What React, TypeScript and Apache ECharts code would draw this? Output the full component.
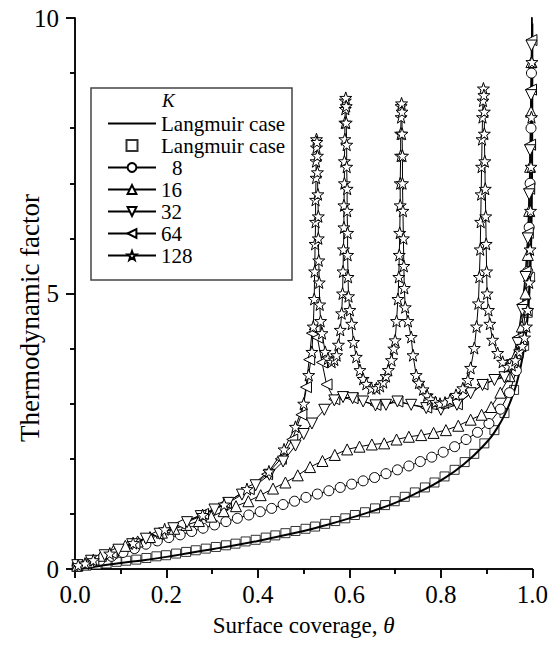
import React, { useEffect, useRef } from "react";
import * as echarts from "echarts";

// Langmuir isotherm, analytic curve
const langTheta = [0, 0.05, 0.1, 0.15, 0.2, 0.25, 0.3, 0.35, 0.4, 0.45, 0.5, 0.55, 0.6, 0.65, 0.7, 0.75, 0.8, 0.85, 0.9, 0.92, 0.94, 0.96, 0.97, 0.98, 0.985, 0.99, 0.993, 0.995, 0.997, 0.998, 0.999, 0.9995, 0.9999, 0.99995];
const langFactor = [0, 0.05, 0.11, 0.16, 0.22, 0.29, 0.36, 0.43, 0.51, 0.6, 0.69, 0.8, 0.92, 1.05, 1.2, 1.39, 1.61, 1.9, 2.3, 2.52, 2.81, 3.22, 3.51, 3.91, 4.2, 4.61, 4.96, 5.3, 5.81, 6.21, 6.91, 7.6, 9.21, 9.9];

// Langmuir case, simulated points
const mcTheta = [0.004, 0.025, 0.047, 0.069, 0.091, 0.112, 0.134, 0.156, 0.178, 0.199, 0.221, 0.243, 0.264, 0.286, 0.308, 0.33, 0.351, 0.373, 0.395, 0.417, 0.438, 0.46, 0.482, 0.504, 0.525, 0.547, 0.569, 0.591, 0.612, 0.634, 0.656, 0.678, 0.699, 0.721, 0.743, 0.765, 0.786, 0.808, 0.83, 0.852, 0.873, 0.895, 0.917, 0.939, 0.96, 0.982, 0.99, 0.995];
const mcFactor = [0.04, 0.06, 0.08, 0.1, 0.13, 0.15, 0.17, 0.2, 0.23, 0.25, 0.28, 0.31, 0.34, 0.37, 0.4, 0.43, 0.46, 0.5, 0.53, 0.57, 0.61, 0.65, 0.69, 0.73, 0.77, 0.82, 0.87, 0.92, 0.98, 1.03, 1.1, 1.16, 1.23, 1.31, 1.39, 1.48, 1.57, 1.68, 1.8, 1.94, 2.09, 2.28, 2.52, 2.83, 3.25, 4.05, 4.65, 5.3];

// K = 8
const k8Theta = [0.005, 0.03, 0.055, 0.08, 0.105, 0.13, 0.155, 0.18, 0.205, 0.23, 0.255, 0.28, 0.305, 0.33, 0.355, 0.38, 0.405, 0.43, 0.455, 0.48, 0.505, 0.53, 0.555, 0.58, 0.605, 0.63, 0.655, 0.68, 0.705, 0.73, 0.755, 0.78, 0.805, 0.83, 0.855, 0.88, 0.905, 0.93, 0.95, 0.965, 0.977, 0.985, 0.99, 0.993, 0.995, 0.997, 0.998, 0.999];
const k8Factor = [0.05, 0.1, 0.16, 0.23, 0.3, 0.37, 0.45, 0.51, 0.57, 0.62, 0.68, 0.74, 0.8, 0.86, 0.92, 0.98, 1.04, 1.1, 1.17, 1.23, 1.3, 1.36, 1.42, 1.48, 1.54, 1.6, 1.66, 1.73, 1.8, 1.87, 1.95, 2.03, 2.12, 2.22, 2.35, 2.48, 2.64, 2.9, 3.2, 3.6, 4.1, 4.7, 5.4, 6.2, 7.0, 8.0, 9.0, 10.2];

// K = 16
const k16Theta = [0.005, 0.03, 0.057, 0.084, 0.11, 0.137, 0.164, 0.19, 0.217, 0.244, 0.271, 0.298, 0.325, 0.352, 0.379, 0.406, 0.433, 0.46, 0.487, 0.514, 0.541, 0.568, 0.595, 0.622, 0.649, 0.676, 0.703, 0.73, 0.757, 0.784, 0.811, 0.838, 0.865, 0.889, 0.91, 0.93, 0.95, 0.965, 0.977, 0.985, 0.99, 0.993, 0.995, 0.997, 0.998, 0.999];
const k16Factor = [0.06, 0.13, 0.24, 0.33, 0.42, 0.5, 0.58, 0.66, 0.73, 0.8, 0.87, 0.95, 1.05, 1.14, 1.23, 1.34, 1.46, 1.57, 1.7, 1.85, 1.96, 2.07, 2.17, 2.22, 2.26, 2.28, 2.35, 2.4, 2.43, 2.47, 2.52, 2.6, 2.71, 2.8, 2.94, 3.2, 3.5, 3.9, 4.4, 5.0, 5.7, 6.5, 7.3, 8.3, 9.2, 10.3];

// K = 32
const k32Theta = [0.005, 0.035, 0.065, 0.095, 0.125, 0.155, 0.185, 0.215, 0.245, 0.275, 0.305, 0.335, 0.365, 0.395, 0.425, 0.455, 0.482, 0.5, 0.518, 0.545, 0.567, 0.586, 0.607, 0.63, 0.657, 0.68, 0.705, 0.735, 0.768, 0.8, 0.835, 0.865, 0.891, 0.917, 0.939, 0.955, 0.968, 0.978, 0.985, 0.99, 0.993, 0.995, 0.997, 0.998, 0.999];
const k32Factor = [0.07, 0.15, 0.25, 0.35, 0.45, 0.55, 0.64, 0.74, 0.85, 0.96, 1.08, 1.2, 1.35, 1.52, 1.71, 1.95, 2.24, 2.45, 2.64, 2.89, 3.06, 3.12, 3.1, 3.04, 2.97, 2.98, 3.04, 2.98, 2.92, 2.89, 2.98, 3.19, 3.34, 3.43, 3.48, 3.7, 4.1, 4.7, 5.3, 6.0, 6.8, 7.6, 8.6, 9.5, 10.5];

// K = 64
const k64Theta = [0.005, 0.04, 0.08, 0.13, 0.18, 0.23, 0.28, 0.33, 0.38, 0.42, 0.45, 0.475, 0.495, 0.505, 0.512, 0.518, 0.524, 0.53, 0.54, 0.55, 0.567, 0.607, 0.657, 0.705, 0.768, 0.835, 0.891, 0.939, 0.955, 0.968, 0.978, 0.985, 0.99, 0.993, 0.995, 0.997, 0.998, 0.999];
const k64Factor = [0.07, 0.16, 0.29, 0.46, 0.64, 0.82, 1.0, 1.2, 1.45, 1.72, 2.0, 2.35, 2.8, 3.3, 3.8, 4.28, 4.35, 4.2, 3.75, 3.35, 3.08, 3.1, 2.98, 3.04, 2.93, 2.99, 3.35, 3.5, 3.75, 4.2, 4.8, 5.4, 6.1, 6.9, 7.7, 8.7, 9.6, 10.6];

// K = 128
const k128Theta = [0.007, 0.022, 0.04, 0.076, 0.127, 0.196, 0.279, 0.326, 0.376, 0.424, 0.457, 0.482, 0.5, 0.511, 0.518,
  0.521, 0.523, 0.524, 0.525, 0.526, 0.526, 0.527, 0.527, 0.528, 0.528, 0.529, 0.53, 0.53, 0.531, 0.532, 0.532, 0.533, 0.534, 0.535, 0.537, 0.54,
  0.547, 0.553, 0.561, 0.567, 0.572, 0.576, 0.58, 0.583,
  0.585, 0.586, 0.587, 0.588, 0.588, 0.589, 0.589, 0.59, 0.59, 0.591, 0.591, 0.592, 0.593, 0.593, 0.594, 0.594, 0.595, 0.595, 0.596, 0.596, 0.597, 0.598, 0.601,
  0.605, 0.609, 0.615, 0.623, 0.63, 0.637, 0.648, 0.659, 0.667, 0.674, 0.68, 0.685, 0.692, 0.697, 0.7,
  0.703, 0.706, 0.708, 0.709, 0.71, 0.711, 0.711, 0.712, 0.712, 0.713, 0.713, 0.714, 0.715, 0.715, 0.716, 0.716, 0.717, 0.718, 0.719, 0.72, 0.722,
  0.728, 0.735, 0.739, 0.746, 0.752, 0.761, 0.77, 0.778, 0.788, 0.798, 0.809, 0.82, 0.833, 0.848, 0.859, 0.865, 0.873, 0.878,
  0.882, 0.884, 0.886, 0.887, 0.888, 0.889, 0.89, 0.891, 0.892, 0.893, 0.894, 0.895, 0.895, 0.896, 0.897, 0.898, 0.899, 0.9, 0.901,
  0.904, 0.907, 0.913, 0.924, 0.935, 0.946, 0.955, 0.963, 0.972, 0.978, 0.983, 0.987, 0.99, 0.993, 0.995, 0.996, 0.997, 0.998, 0.999, 0.9995];
const k128Factor = [0.07, 0.1, 0.16, 0.28, 0.47, 0.72, 0.98, 1.17, 1.45, 1.77, 2.17, 2.58, 3.0, 3.52, 3.94,
  4.4, 4.9, 5.4, 5.9, 6.3, 6.7, 7.1, 7.4, 7.65, 7.8, 7.75, 7.5, 7.2, 6.8, 6.4, 6.0, 5.6, 5.2, 4.8, 4.5, 4.28,
  3.94, 3.82, 3.76, 3.8, 3.88, 4.07, 4.34, 4.64,
  5.0, 5.4, 5.8, 6.2, 6.6, 7.0, 7.4, 7.8, 8.1, 8.35, 8.5, 8.55, 8.4, 8.1, 7.7, 7.3, 6.9, 6.5, 6.1, 5.7, 5.3, 4.95, 4.7,
  4.45, 4.12, 3.85, 3.61, 3.45, 3.36, 3.28, 3.28, 3.32, 3.39, 3.5, 3.61, 3.79, 4.0, 4.15,
  4.5, 4.9, 5.3, 5.7, 6.1, 6.6, 7.0, 7.5, 7.9, 8.2, 8.4, 8.45, 8.3, 7.9, 7.5, 7.0, 6.5, 6.0, 5.5, 5.1, 4.75,
  4.5, 4.21, 3.88, 3.52, 3.38, 3.26, 3.15, 3.08, 3.03, 3.0, 3.02, 3.07, 3.16, 3.28, 3.43, 3.65, 4.01, 4.4,
  4.82, 5.3, 5.8, 6.3, 6.8, 7.3, 7.8, 8.2, 8.5, 8.72, 8.6, 8.3, 7.9, 7.4, 6.9, 6.4, 5.9, 5.4, 5.0,
  4.7, 4.45, 4.16, 3.92, 3.76, 3.67, 3.7, 3.79, 3.95, 4.05, 4.2, 4.4, 4.7, 5.2, 5.8, 6.5, 7.3, 8.2, 9.2, 10.3];

const xTicks = [0, 0.2, 0.4, 0.6, 0.8, 1.0];
const yTicks = [0, 5, 10];

const FONT = "'Liberation Serif', 'Times New Roman', serif";
const STAR = "path://M10,0L12.35,6.76L19.51,6.91L13.8,11.24L15.88,18.09L10,14L4.12,18.09L6.2,11.24L0.49,6.91L7.65,6.76Z";
const TRI_UP = "path://M5,0L10,9L0,9Z";
const TRI_DOWN = "path://M0,0L10,0L5,9Z";
const TRI_LEFT = "path://M0,5L9,0L9,10Z";
const SQUARE = "path://M0,0L10,0L10,10L0,10Z";
const BAR = "path://M0,0L48,0L48,2L0,2Z";

const pairs = (xs: number[], ys: number[]) => xs.map((x, i) => [x, ys[i]]);

function markedLine(name: string, xs: number[], ys: number[], symbol: string, size: number) {
  return {
    name,
    type: "line",
    data: pairs(xs, ys),
    symbol,
    symbolSize: size,
    showAllSymbol: true,
    lineStyle: { color: "#000", width: 1 },
    itemStyle: { color: "#fff", borderColor: "#000", borderWidth: 1 },
    emphasis: { disabled: true },
  };
}

export default function App() {
  const ref = useRef<HTMLDivElement>(null);

  useEffect(() => {
    document.body.style.margin = "0";
    if (!ref.current) return;
    const chart = echarts.init(ref.current, undefined, { renderer: "svg" });

    const axisLine = { show: true, lineStyle: { color: "#000", width: 1.5 } };
    const tickStyle = { color: "#000", width: 1.5 };

    const option = {
      animation: false,
      backgroundColor: "#fff",
      grid: { left: 75, right: 16, top: 18, bottom: 80 },
      xAxis: [
        {
          type: "value",
          position: "bottom",
          min: xTicks[0],
          max: xTicks[xTicks.length - 1],
          interval: 0.2,
          axisLine,
          axisTick: { show: true, inside: false, length: 9, lineStyle: tickStyle },
          minorTick: { show: true, splitNumber: 2, length: 5, lineStyle: tickStyle },
          splitLine: { show: false },
          axisLabel: {
            formatter: (v: number) => v.toFixed(1),
            fontSize: 25,
            fontFamily: FONT,
            color: "#000",
            margin: 13,
          },
          name: "Surface coverage, {i|θ}",
          nameLocation: "middle",
          nameGap: 45,
          nameTextStyle: {
            fontSize: 23,
            fontFamily: FONT,
            color: "#000",
            rich: { i: { fontSize: 23, fontFamily: FONT, fontStyle: "italic", color: "#000" } },
          },
        },
        {
          type: "value",
          position: "top",
          min: xTicks[0],
          max: xTicks[xTicks.length - 1],
          interval: 0.2,
          axisLine,
          axisTick: { show: true, inside: true, length: 9, lineStyle: tickStyle },
          minorTick: { show: true, splitNumber: 2, length: 5, lineStyle: tickStyle },
          splitLine: { show: false },
          axisLabel: { show: false },
        },
      ],
      yAxis: [
        {
          type: "value",
          position: "left",
          min: yTicks[0],
          max: yTicks[yTicks.length - 1],
          interval: 5,
          axisLine,
          axisTick: { show: true, inside: false, length: 9, lineStyle: tickStyle },
          minorTick: { show: true, splitNumber: 5, length: 5, lineStyle: tickStyle },
          splitLine: { show: false },
          axisLabel: { fontSize: 25, fontFamily: FONT, color: "#000", margin: 16 },
        },
        {
          type: "value",
          position: "right",
          min: yTicks[0],
          max: yTicks[yTicks.length - 1],
          interval: 5,
          axisLine,
          axisTick: { show: true, inside: true, length: 9, lineStyle: tickStyle },
          minorTick: { show: true, splitNumber: 5, length: 5, lineStyle: tickStyle },
          splitLine: { show: false },
          axisLabel: { show: false },
        },
      ],
      legend: {
        orient: "vertical",
        left: 107,
        top: 113,
        itemWidth: 48,
        itemHeight: 11,
        itemGap: 1,
        padding: 0,
        selectedMode: false,
        data: [
          { name: "Langmuir case", icon: BAR },
          { name: "Langmuir case (MC)", icon: SQUARE },
          "8",
          "16",
          "32",
          "64",
          "128",
        ],
        formatter: (name: string) => {
          if (name === "Langmuir case (MC)") return "Langmuir case";
          if (name === "8") return "{pad|}8";
          return name;
        },
        textStyle: {
          fontSize: 21,
          fontFamily: FONT,
          color: "#000",
          rich: { pad: { width: 11 } },
        },
      },
      graphic: [
        {
          type: "text",
          x: 30,
          y: 318,
          rotation: Math.PI / 2,
          style: {
            text: "Thermodynamic factor",
            font: `27px ${FONT}`,
            fill: "#000",
            align: "center",
            verticalAlign: "middle",
          },
        },
        {
          type: "rect",
          shape: { x: 91, y: 88, width: 201, height: 192 },
          style: { fill: "none", stroke: "#444", lineWidth: 1.5 },
          z: 100,
        },
        {
          type: "text",
          x: 162,
          y: 100,
          style: {
            text: "K",
            font: `italic 19px ${FONT}`,
            fill: "#000",
            verticalAlign: "middle",
          },
          z: 100,
        },
      ],
      series: [
        {
          name: "Langmuir case (MC)",
          type: "scatter",
          data: pairs(mcTheta, mcFactor),
          symbol: SQUARE,
          symbolSize: 9,
          itemStyle: { color: "#fff", borderColor: "#000", borderWidth: 1 },
          emphasis: { disabled: true },
        },
        markedLine("8", k8Theta, k8Factor, "circle", 10),
        markedLine("16", k16Theta, k16Factor, TRI_UP, 11),
        markedLine("64", k64Theta, k64Factor, TRI_LEFT, 11),
        markedLine("32", k32Theta, k32Factor, TRI_DOWN, 11),
        markedLine("128", k128Theta, k128Factor, STAR, 12),
        {
          name: "Langmuir case",
          type: "line",
          data: pairs(langTheta, langFactor),
          symbol: "none",
          smooth: true,
          lineStyle: { color: "#000", width: 2 },
          itemStyle: { color: "#000" },
          emphasis: { disabled: true },
        },
      ],
    };

    chart.setOption(option as any);
    return () => chart.dispose();
  }, []);

  return <div ref={ref} style={{ width: 551, height: 649 }} />;
}
